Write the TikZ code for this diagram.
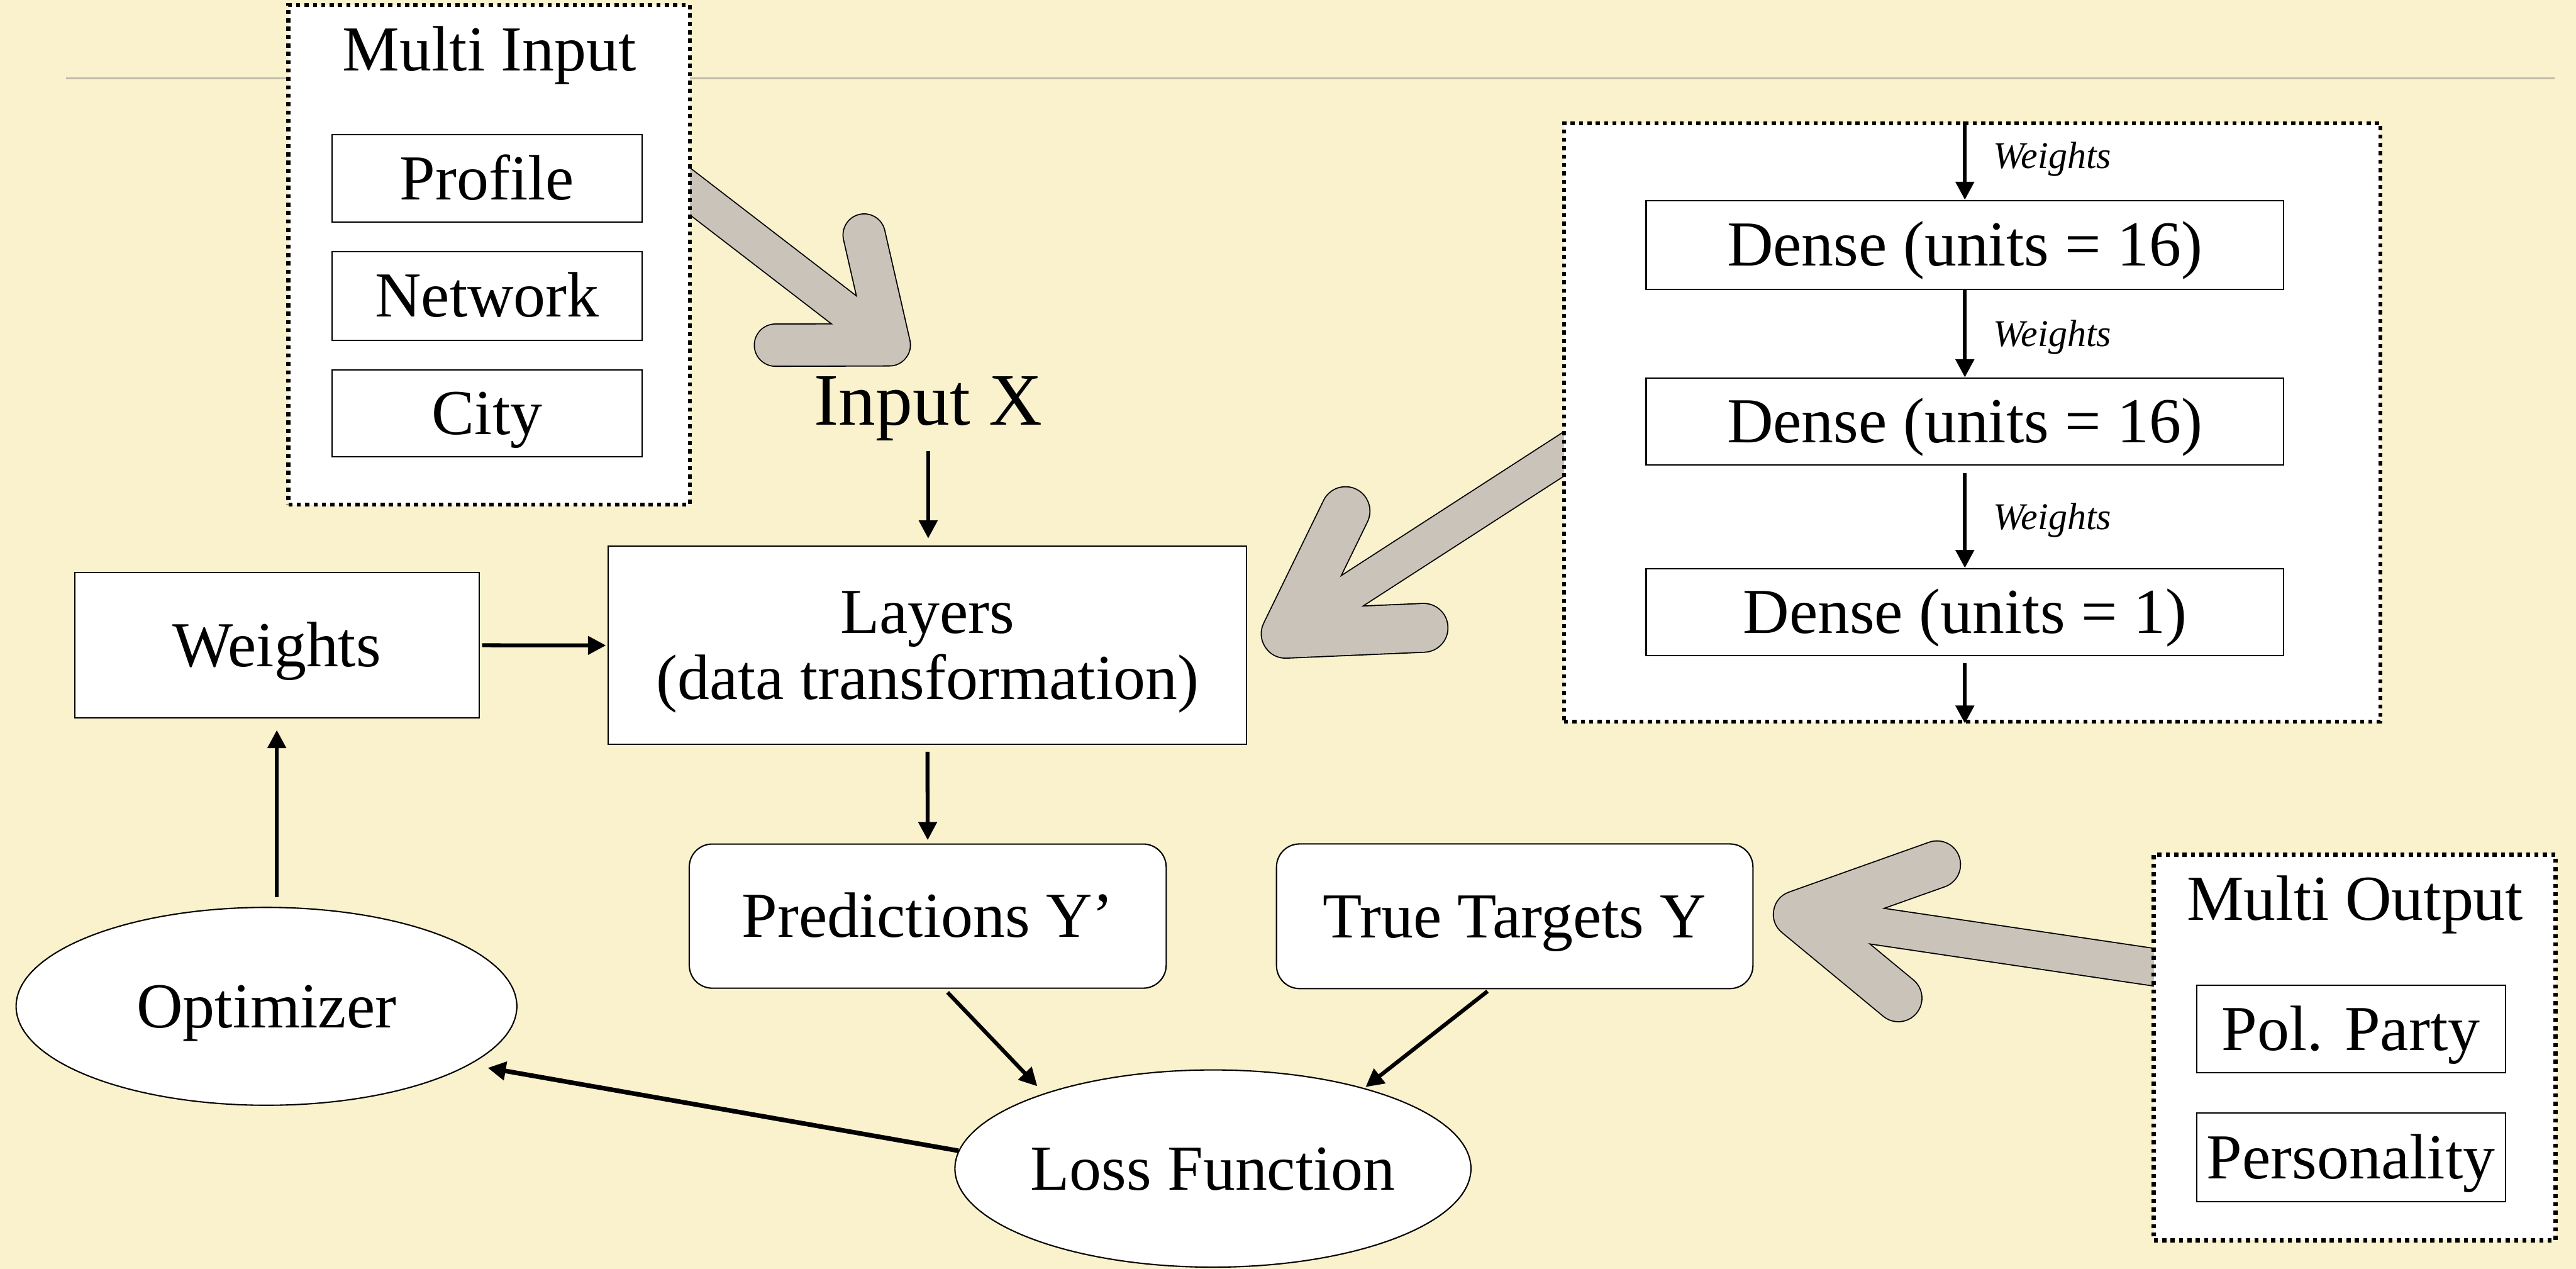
\documentclass[tikz,border=0pt]{standalone}
\usepackage{fontspec}
\setmainfont{Liberation Serif}
\usetikzlibrary{arrows.meta,shapes.geometric}
\definecolor{parchment}{RGB}{250,241,205}
\definecolor{fatgrey}{RGB}{201,195,185}
\definecolor{ruleline}{RGB}{192,186,170}

\begin{document}
\begin{tikzpicture}[x=1pt, y=-1pt,
            lbl/.style={font=\fontsize{39}{45}\selectfont, text height=25.8pt, text depth=0pt, inner sep=0pt},
            plain/.style={lbl, draw, line width=0.8pt, fill=white},
            rbox/.style={plain, rounded corners=14pt},
            oval/.style={lbl, ellipse, draw, line width=0.8pt, fill=white},
            group/.style={draw, fill=white, line width=2.5pt, dash pattern=on 2.5pt off 2.6pt, inner sep=0pt},
            arr/.style={-{Triangle[length=11pt,width=11pt]}, line width=2.4pt},
            wlbl/.style={font=\fontsize{23}{25}\selectfont\itshape, text height=15.2pt, text depth=0pt, inner sep=0pt},
            fatedge/.style={line width=#1, line cap=round, line join=round}]
            \fill[parchment] (0,0) rectangle (1568,772);
            \useasboundingbox (0,0) rectangle (1568,772);
            \draw[ruleline, line width=1pt] (40.3,47.7) -- (1555,47.7);

            % fat grey arrows: outline pass, then fill pass
            \coordinate (inS) at (405,104.9);
            \coordinate (inT) at (541.3,209.8);
            \coordinate (inA) at (526,143);
            \coordinate (inB) at (472,210);
            \coordinate (dnS) at (970,264.5);
            \coordinate (dnT) at (782.6,385.6);
            \coordinate (dnA) at (819,311);
            \coordinate (dnB) at (866.5,382);
            \coordinate (outS) at (1330,591.3);
            \coordinate (outT) at (1093.8,556.3);
            \coordinate (outA) at (1179,526);
            \coordinate (outB) at (1155.5,607.3);
            \draw[fatedge=26.4pt] (inA) -- (inT) -- (inB);
            \draw[fatedge=23.4pt] (inS) -- (inT);
            \draw[fatedge=30.4pt] (dnA) -- (dnT) -- (dnB);
            \draw[fatedge=23.4pt] (dnS) -- (dnT);
            \draw[fatedge=29.4pt] (outA) -- (outT) -- (outB);
            \draw[fatedge=23.4pt] (outS) -- (outT);
            \draw[fatedge=25pt, fatgrey] (inA) -- (inT) -- (inB);
            \draw[fatedge=22pt, fatgrey] (inS) -- (inT);
            \draw[fatedge=29pt, fatgrey] (dnA) -- (dnT) -- (dnB);
            \draw[fatedge=22pt, fatgrey] (dnS) -- (dnT);
            \draw[fatedge=28pt, fatgrey] (outA) -- (outT) -- (outB);
            \draw[fatedge=22pt, fatgrey] (outS) -- (outT);

            \node[group, minimum width=244.3pt, minimum height=304pt] (multiin) at (297.7,155) {};
            \node[lbl] (inTitle) at (298,30) {Multi Input};
            \node[plain, minimum width=189pt, minimum height=53pt] (profile) at (296.5,108.5) {Profile};
            \node[plain, minimum width=189pt, minimum height=54pt] (network) at (296.5,180) {Network};
            \node[plain, minimum width=189pt, minimum height=53pt] (city) at (296.5,251.5) {City};

            \node[lbl, font=\fontsize{45}{50}\selectfont, text height=29.6pt] (inputx) at (565,243.8) {Input X};

            \node[group, minimum width=497pt, minimum height=364pt] (stack) at (1200.5,257) {};
            \node[plain, minimum width=388pt, minimum height=54pt] (d1) at (1196,149) {Dense (units = 16)};
            \node[plain, minimum width=388pt, minimum height=53pt] (d2) at (1196,256.5) {Dense (units = 16)};
            \node[plain, minimum width=388pt, minimum height=53pt] (d3) at (1196,372.5) {Dense (units = 1)};

            \node[plain, minimum width=388.5pt, minimum height=120.6pt] (layers) at (564.5,392.7) {};
            \node[lbl, anchor=base] (layersTop) at (564.5,385.4) {Layers};
            \node[lbl, anchor=base] (layersBot) at (564.5,425.5) {(data transformation)};
            \node[plain, minimum width=246.2pt, minimum height=88.4pt] (weights) at (168.5,392.6) {Weights};

            \node[rbox, minimum width=290.3pt, minimum height=87.7pt] (pred) at (564.7,557.4) {Predictions Y'};
            \node[rbox, minimum width=290pt, minimum height=88pt] (true) at (922,557.5) {True Targets Y};

            \node[oval, minimum width=304.8pt, minimum height=120.4pt] (optimizer) at (162.2,612.3) {Optimizer};
            \node[oval, minimum width=304pt, minimum height=120pt] (loss) at (738.3,711) {Loss Function};

            \node[group, minimum width=244.6pt, minimum height=234.6pt] (multiout) at (1433.3,637.3) {};
            \node[lbl] (outTitle) at (1433.5,546.8) {Multi Output};
            \node[plain, minimum width=188pt, minimum height=53.3pt] (party) at (1431,626.2) {Pol. Party};
            \node[plain, minimum width=188pt, minimum height=53.7pt] (persona) at (1431,704.2) {Personality};

            \draw[arr, shorten <=15.5pt, shorten >=4.4pt] (inputx.south) -- (inputx.south |- layers.north);
            \draw[arr, shorten <=1.5pt, shorten >=1pt] (weights.east) -- (layers.west);
            \draw[arr, shorten <=4pt, shorten >=2pt] (layers.south) -- (pred.north);
            \draw[arr, shorten <=3pt, shorten >=6pt] ([xshift=10pt]pred.south) -- (loss.156);
            \draw[arr, shorten <=2pt, shorten >=1pt] ([xshift=-15pt]true.south) -- (loss.28);
            \draw[arr, line width=2.8pt, shorten >=11pt] (loss.176) -- (optimizer.-16);
            \draw[arr, shorten <=6pt, shorten >=7pt] (optimizer.north -| weights.south) -- (weights.south);

            \draw[arr] (stack.north -| d1.north) -- (d1.north)
                node[wlbl, midway, right=16pt, yshift=3pt] (w1) {Weights};
            \draw[arr] (d1.south) -- (d2.north)
                node[wlbl, midway, right=16pt] (w2) {Weights};
            \draw[arr, shorten <=4.5pt] (d2.south) -- (d3.north)
                node[wlbl, midway, right=16pt] (w3) {Weights};
            \draw[arr, shorten <=4pt] (d3.south) -- (stack.south -| d3.south);
        \end{tikzpicture}
\end{document}
